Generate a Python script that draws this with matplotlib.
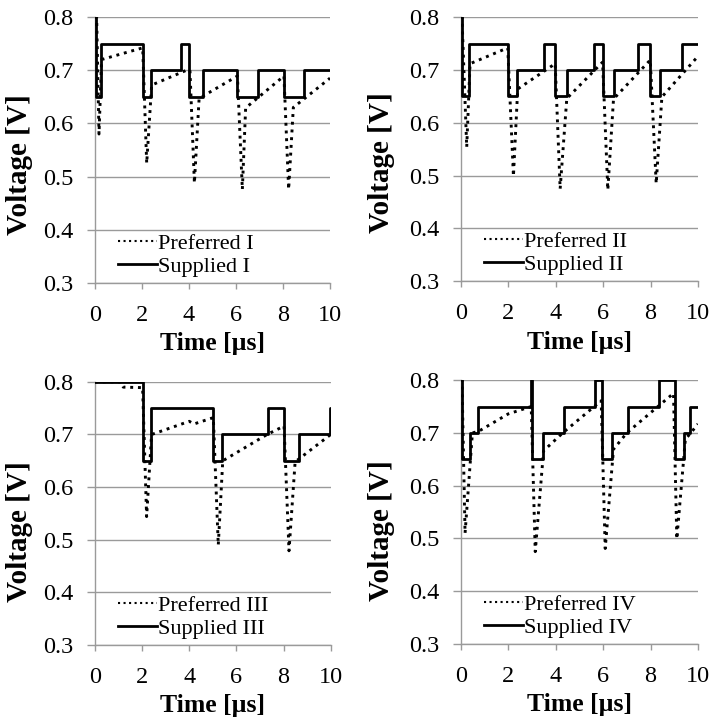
import matplotlib
matplotlib.use('Agg')
import matplotlib.pyplot as plt

plt.rcParams['font.family'] = ['Liberation Serif', 'DejaVu Serif']

# Supplied voltage: step levels, each level holds from its time until the next one
sup1_t = [0, 0.03, 0.26, 2.03, 2.38, 3.66, 4.0, 4.6, 6.03, 6.92, 8.03, 8.9, 10]
sup1_v = [0.8, 0.65, 0.75, 0.65, 0.7, 0.75, 0.65, 0.7, 0.65, 0.7, 0.65, 0.7, 0.7]
sup2_t = [0, 0.04, 0.36, 1.98, 2.36, 3.49, 3.98, 4.47, 5.6, 5.99, 6.44, 7.47, 7.99, 8.41, 9.32, 10]
sup2_v = [0.8, 0.65, 0.75, 0.65, 0.7, 0.75, 0.65, 0.7, 0.75, 0.65, 0.7, 0.75, 0.65, 0.7, 0.75, 0.75]
sup3_t = [0, 2.03, 2.38, 5.02, 5.37, 7.33, 8.02, 8.66, 9.97, 10]
sup3_v = [0.8, 0.65, 0.75, 0.65, 0.7, 0.75, 0.65, 0.7, 0.75, 0.75]
sup4_t = [0, 0.07, 0.39, 0.72, 2.97, 2.99, 3.46, 4.37, 5.64, 5.95, 6.37, 7.05, 8.34, 9.04, 9.4, 9.68, 10]
sup4_v = [0.8, 0.65, 0.7, 0.75, 0.8, 0.65, 0.7, 0.75, 0.8, 0.65, 0.7, 0.75, 0.8, 0.65, 0.7, 0.75, 0.75]

# Preferred voltage (dotted)
pref1_t = [0, 0.07, 0.17, 0.28, 2.03, 2.2, 2.41, 3.9, 4.04, 4.23, 4.43, 6.06, 6.27, 6.41, 8.04, 8.24, 8.44, 10]
pref1_v = [0.8, 0.8, 0.58, 0.72, 0.742, 0.525, 0.672, 0.70, 0.70, 0.488, 0.647, 0.689, 0.476, 0.629, 0.689, 0.476, 0.63, 0.685]
pref2_t = [0, 0.05, 0.25, 0.39, 1.98, 2.22, 2.4, 3.98, 4.19, 4.47, 5.98, 6.2, 6.44, 7.99, 8.24, 8.48, 10]
pref2_v = [0.8, 0.8, 0.554, 0.712, 0.742, 0.499, 0.664, 0.712, 0.475, 0.646, 0.715, 0.473, 0.645, 0.719, 0.485, 0.649, 0.726]
pref3_t = [0, 1.1, 1.2, 2.02, 2.19, 2.4, 4.0, 4.2, 5.02, 5.23, 5.42, 7.3, 8.02, 8.23, 8.49, 10]
pref3_v = [0.8, 0.8, 0.79, 0.789, 0.544, 0.70, 0.725, 0.72, 0.732, 0.49, 0.65, 0.70, 0.716, 0.479, 0.648, 0.70]
pref4_t = [0, 0.05, 0.18, 0.49, 0.75, 2.0, 2.97, 3.14, 3.49, 4.3, 5.92, 6.09, 6.44, 7.0, 8.97, 9.11, 9.47, 9.7, 10]
pref4_v = [0.8, 0.8, 0.51, 0.70, 0.703, 0.736, 0.75, 0.475, 0.666, 0.70, 0.761, 0.481, 0.669, 0.70, 0.775, 0.499, 0.688, 0.70, 0.717]

names = ['I', 'II', 'III', 'IV']
sup_t = [sup1_t, sup2_t, sup3_t, sup4_t]
sup_v = [sup1_v, sup2_v, sup3_v, sup4_v]
pref_t = [pref1_t, pref2_t, pref3_t, pref4_t]
pref_v = [pref1_v, pref2_v, pref3_v, pref4_v]

# axes boxes in figure fractions (left, bottom, width, height)
boxes = [(0.1338, 0.6064, 0.331, 0.370),
         (0.649, 0.609, 0.334, 0.367),
         (0.1338, 0.1029, 0.332, 0.366),
         (0.649, 0.1043, 0.334, 0.367)]
# y label spots (axes coords), the labels sit a bit below centre like in the original
ylab_pos = [(-0.262, 0.445), (-0.278, 0.45), (-0.262, 0.43), (-0.278, 0.428)]

grey = '#9a9a9a'
fig = plt.figure(figsize=(7.1, 7.19), dpi=100)

for i in range(4):
    ax = fig.add_axes(boxes[i])
    ax.plot(pref_t[i], pref_v[i], color='black', linestyle=':', lw=2.1,
            label='Preferred ' + names[i], zorder=3)
    ax.step(sup_t[i], sup_v[i], where='post', color='black', lw=2.0,
            label='Supplied ' + names[i], zorder=4)
    ax.set_xlim(0, 10)
    ax.set_ylim(0.3, 0.8)
    ax.set_xticks([0, 2, 4, 6, 8, 10])
    ax.set_yticks([0.3, 0.4, 0.5, 0.6, 0.7, 0.8])
    ax.set_yticklabels(['0.3', '0.4', '0.5', '0.6', '0.7', '0.8'])
    ax.grid(axis='y', color=grey, lw=1.0)
    ax.set_axisbelow(True)
    for s in ['top', 'right']:
        ax.spines[s].set_visible(False)
    for s in ['left', 'bottom']:
        ax.spines[s].set_color(grey)
        ax.spines[s].set_linewidth(1.0)
    ax.tick_params(axis='x', colors=grey, length=4.5, width=1.0, pad=11,
                   labelsize=17.5, labelcolor='black')
    ax.tick_params(axis='y', colors=grey, length=5.5, width=1.0, pad=10,
                   labelsize=17.5, labelcolor='black')
    ax.set_xlabel('Time [µs]', fontsize=18.5, fontweight='bold', labelpad=5)
    ax.set_ylabel('Voltage [V]', fontsize=21, fontweight='bold')
    ax.yaxis.set_label_coords(*ylab_pos[i])
    leg = ax.legend(loc='lower left', bbox_to_anchor=(0.045, -0.023), frameon=False,
                    fontsize=16, handlelength=1.75, handletextpad=0.05,
                    labelspacing=0.1, borderaxespad=0.15)
    leg.get_lines()[0].set_linewidth(1.5)

fig.savefig('out.png', dpi=100)
